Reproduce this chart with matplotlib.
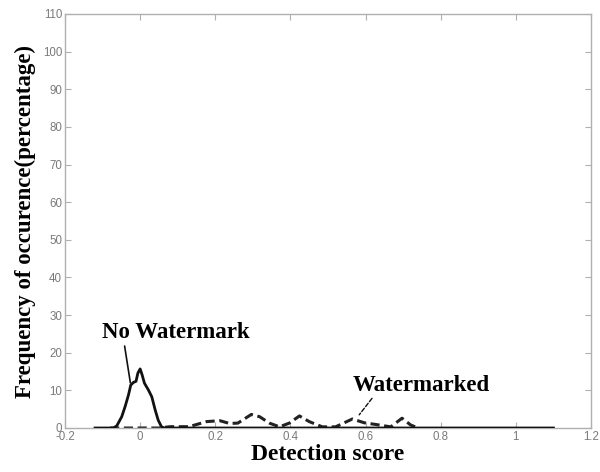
import matplotlib
matplotlib.use("Agg")
import matplotlib.pyplot as plt

# Detection-score histogram (percentage of occurrences)
x_no_wm = [-0.12, -0.071, -0.062, -0.049, -0.040, -0.031, -0.025, -0.018, -0.011,
           -0.006, 0.0, 0.0053, 0.0115, 0.022, 0.031, 0.040, 0.048, 0.057, 0.065, 1.10]
y_no_wm = [0.0, 0.0, 0.6, 3.0, 5.7, 8.8, 11.4, 12.1, 12.4,
           14.6, 15.7, 14.1, 11.9, 10.1, 8.3, 4.8, 2.1, 0.3, 0.0, 0.0]

x_wm = [-0.08, 0.05, 0.08, 0.13, 0.177, 0.212, 0.238, 0.26, 0.296, 0.318, 0.344,
        0.371, 0.397, 0.424, 0.45, 0.485, 0.52, 0.565, 0.596, 0.636, 0.667,
        0.697, 0.72, 0.74]
y_wm = [0.0, 0.0, 0.35, 0.35, 1.7, 1.95, 1.2, 1.3, 3.6, 3.0, 1.3,
        0.3, 1.3, 3.2, 1.7, 0.3, 0.3, 2.4, 1.4, 0.8, 0.3,
        2.6, 0.8, 0.0]

x_ticks = [-0.2, 0, 0.2, 0.4, 0.6, 0.8, 1, 1.2]
x_tick_labels = ["-0.2", "0", "0.2", "0.4", "0.6", "0.8", "1", "1.2"]
y_ticks = list(range(0, 111, 10))

serif = ["Liberation Serif", "DejaVu Serif"]
sans = ["Liberation Sans", "DejaVu Sans"]

fig = plt.figure(figsize=(6.0, 4.72), dpi=100)
ax = fig.add_axes([65 / 600, 44 / 472, 526 / 600, 414 / 472])

ax.plot(x_wm, y_wm, color="#222222", lw=2.2, linestyle=(0, (3, 1.5)), zorder=2)
ax.plot(x_no_wm, y_no_wm, color="#111111", lw=2.0, zorder=3)

ax.set_xlim(-0.2, 1.2)
ax.set_ylim(0, 110)
ax.set_xticks(x_ticks)
ax.set_xticklabels(x_tick_labels)
ax.set_yticks(y_ticks)

for side in ax.spines.values():
    side.set_color("#b0b0b0")
    side.set_linewidth(1.0)
ax.tick_params(direction="in", length=4, width=0.8, color="#b0b0b0",
               labelcolor="#7a7a7a", labelsize=8.3, top=True, right=True, pad=2)
for lab in ax.get_xticklabels() + ax.get_yticklabels():
    lab.set_family(sans)

ax.set_xlabel("Detection score", family=serif, fontweight="bold", fontsize=17,
              labelpad=1)
ax.set_ylabel("Frequency of occurence(percentage)", family=serif,
              fontweight="bold", fontsize=16.5, labelpad=5)

# Curve annotations
ax.annotate("No Watermark", xy=(-0.026, 12.0), xytext=(0.095, 25.3),
            ha="center", va="center", family=serif, fontweight="bold", fontsize=16.5,
            arrowprops=dict(arrowstyle="-", color="#111111", lw=1.2,
                            shrinkA=0, shrinkB=0,
                            relpos=(0.15, 0.0)))
ax.annotate("Watermarked", xy=(0.583, 3.5), xytext=(0.747, 11.4),
            ha="center", va="center", family=serif, fontweight="bold", fontsize=16.5,
            arrowprops=dict(arrowstyle="-", color="#111111", lw=1.0,
                            linestyle=(0, (3, 1.5)), shrinkA=0, shrinkB=0,
                            relpos=(0.16, 0.0)))

fig.savefig("out.png", dpi=100, facecolor="white")
